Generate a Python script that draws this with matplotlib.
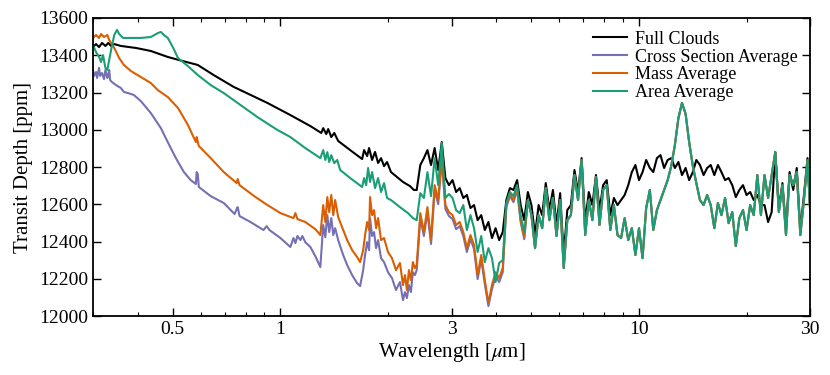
import matplotlib
matplotlib.use('Agg')
import matplotlib.pyplot as plt
from matplotlib.ticker import FixedLocator, FixedFormatter, NullFormatter

plt.rcParams['font.family'] = ['Liberation Serif', 'DejaVu Serif']
plt.rcParams['mathtext.fontset'] = 'stix'

# colours (Dark2)
BLACK = '#000000'
PURPLE = '#7570b3'
ORANGE = '#d95f02'
GREEN = '#1b9e77'

# shared infrared grid (um), 0.01 dex steps
ir_wl = [2.399, 2.455, 2.512, 2.570, 2.630, 2.692, 2.754, 2.818, 2.884, 2.951,
         3.020, 3.090, 3.162, 3.236, 3.311, 3.388, 3.467, 3.548, 3.631, 3.715,
         3.802, 3.890, 3.981, 4.074, 4.169, 4.266, 4.365, 4.467, 4.571, 4.677,
         4.786, 4.898, 5.012, 5.129, 5.248, 5.370, 5.495, 5.623, 5.754, 5.888,
         6.026, 6.166, 6.310, 6.457, 6.607, 6.761, 6.918, 7.079, 7.244, 7.413,
         7.586, 7.762, 7.943, 8.128, 8.318, 8.511, 8.710, 8.913, 9.120, 9.333,
         9.550, 9.772, 10.00, 10.23, 10.47, 10.72, 10.96, 11.22, 11.48, 11.75,
         12.02, 12.30, 12.59, 12.88, 13.18, 13.49, 13.80, 14.13, 14.45, 14.79,
         15.14, 15.49, 15.85, 16.22, 16.60, 16.98, 17.38, 17.78, 18.20, 18.62,
         19.05, 19.50, 19.95, 20.42, 20.89, 21.38, 21.88, 22.39, 22.91, 23.44,
         23.99, 24.55, 25.12, 25.70, 26.30, 26.92, 27.54, 28.18, 28.84, 29.51,
         30.20]

# Full Clouds
full_wl_vis = [0.300, 0.306, 0.312, 0.318, 0.325, 0.331, 0.337, 0.344, 0.359, 0.396,
               0.435, 0.485, 0.534, 0.588, 0.651, 0.741, 0.825, 0.920, 1.066, 1.212,
               1.300, 1.316, 1.342, 1.359, 1.386, 1.413, 1.449, 1.565, 1.690, 1.711,
               1.745, 1.767, 1.801, 1.836, 1.872, 1.908, 1.945, 1.983, 2.034, 2.197,
               2.297, 2.356]
full_vis = [13444, 13460, 13444, 13466, 13450, 13466, 13450, 13460, 13450, 13439,
            13423, 13391, 13369, 13348, 13294, 13230, 13187, 13144, 13079, 13020,
            12983, 13009, 12977, 13004, 12961, 12983, 12940, 12891, 12843, 12891,
            12859, 12902, 12838, 12881, 12822, 12848, 12805, 12827, 12773, 12720,
            12698, 12677]
full_ir = [12677, 12811, 12848, 12891, 12811, 12902, 12784, 12934, 12741, 12703,
           12730, 12666, 12687, 12634, 12650, 12580, 12596, 12515, 12542, 12462,
           12505, 12419, 12472, 12408, 12451, 12623, 12687, 12677, 12730, 12596,
           12515, 12666, 12596, 12435, 12596, 12542, 12714, 12569, 12677, 12489,
           12660, 12328, 12569, 12596, 12784, 12666, 12848, 12505, 12666, 12596,
           12757, 12569, 12703, 12730, 12542, 12634, 12596, 12623, 12650, 12703,
           12773, 12811, 12730, 12773, 12838, 12795, 12773, 12848, 12864, 12795,
           12838, 12848, 12795, 12827, 12757, 12795, 12730, 12773, 12838, 12811,
           12757, 12795, 12811, 12757, 12811, 12773, 12730, 12741, 12703, 12639,
           12677, 12703, 12650, 12666, 12623, 12650, 12596, 12596, 12505, 12558,
           12880, 12580, 12714, 12472, 12773, 12677, 12795, 12462, 12650, 12848,
           12489]

# Cross Section Average
cross_wl_vis = [0.300, 0.302, 0.306, 0.308, 0.312, 0.314, 0.318, 0.322, 0.325, 0.329,
                0.331, 0.333, 0.335, 0.339, 0.348, 0.359, 0.366, 0.376, 0.390, 0.408,
                0.435, 0.464, 0.485, 0.511, 0.538, 0.562, 0.581, 0.584, 0.588, 0.592,
                0.639, 0.695, 0.745, 0.755, 0.760, 0.769, 0.825, 0.897, 0.915, 0.932,
                1.000, 1.066, 1.087, 1.101, 1.115, 1.137, 1.151, 1.173, 1.212, 1.251,
                1.292, 1.316, 1.334, 1.351, 1.368, 1.386, 1.404, 1.421, 1.449, 1.496,
                1.535, 1.585, 1.636, 1.668, 1.701, 1.722, 1.745, 1.767, 1.778, 1.801,
                1.824, 1.848, 1.872, 1.908, 1.945, 1.995, 2.047, 2.100, 2.154, 2.197,
                2.225, 2.253, 2.282, 2.311, 2.341, 2.371]
cross_vis = [13321, 13289, 13310, 13278, 13332, 13289, 13305, 13272, 13321, 13278,
             13294, 13321, 13267, 13256, 13240, 13224, 13203, 13197, 13187, 13154,
             13090, 13009, 12934, 12848, 12773, 12730, 12709, 12773, 12762, 12693,
             12644, 12607, 12548, 12575, 12585, 12537, 12505, 12462, 12483, 12462,
             12419, 12371, 12419, 12392, 12430, 12408, 12430, 12397, 12371, 12322,
             12263, 12489, 12424, 12542, 12451, 12526, 12435, 12472, 12408, 12328,
             12274, 12220, 12177, 12161, 12247, 12328, 12397, 12354, 12526, 12430,
             12451, 12365, 12408, 12311, 12290, 12236, 12204, 12140, 12183, 12086,
             12129, 12097, 12167, 12129, 12236, 12220]
cross_ir_head = [12247, 12526, 12430, 12558, 12387, 12677, 12601, 12838, 12575, 12537,
                 12521, 12467, 12483, 12430, 12344, 12413, 12360, 12199, 12306, 12172,
                 12054, 12145, 12215, 12183, 12236, 12585, 12644, 12612, 12677, 12505,
                 12413]

# Mass Average
mass_wl_vis = [0.300, 0.306, 0.312, 0.316, 0.322, 0.329, 0.333, 0.337, 0.344, 0.355,
               0.366, 0.383, 0.408, 0.435, 0.455, 0.485, 0.518, 0.552, 0.581, 0.584,
               0.592, 0.639, 0.695, 0.755, 0.760, 0.769, 0.852, 0.920, 1.000, 1.087,
               1.101, 1.115, 1.173, 1.251, 1.292, 1.316, 1.334, 1.351, 1.368, 1.386,
               1.404, 1.421, 1.449, 1.496, 1.535, 1.585, 1.636, 1.668, 1.701, 1.722,
               1.745, 1.767, 1.778, 1.801, 1.824, 1.848, 1.872, 1.908, 1.945, 1.995,
               2.047, 2.100, 2.154, 2.197, 2.225, 2.253, 2.282, 2.311, 2.341, 2.371]
mass_vis = [13493, 13509, 13493, 13514, 13498, 13509, 13482, 13466, 13439, 13385,
            13348, 13315, 13283, 13251, 13213, 13176, 13117, 13026, 12934, 12961,
            12913, 12848, 12773, 12714, 12736, 12703, 12639, 12596, 12553, 12526,
            12553, 12521, 12505, 12467, 12435, 12596, 12505, 12639, 12558, 12650,
            12542, 12623, 12531, 12462, 12408, 12354, 12317, 12290, 12354, 12435,
            12505, 12462, 12639, 12542, 12569, 12472, 12526, 12408, 12419, 12344,
            12311, 12247, 12285, 12167, 12220, 12140, 12247, 12193, 12290, 12258]
mass_ir_head = [12274, 12553, 12451, 12585, 12408, 12703, 12623, 12864, 12596, 12558,
                12542, 12489, 12505, 12451, 12365, 12435, 12381, 12220, 12328, 12193,
                12070, 12167, 12236, 12204, 12258, 12596, 12655, 12623, 12687, 12515,
                12424]

# Area Average
area_wl_vis = [0.300, 0.306, 0.312, 0.316, 0.320, 0.325, 0.329, 0.333, 0.337, 0.344,
               0.350, 0.355, 0.364, 0.383, 0.408, 0.435, 0.455, 0.464, 0.473, 0.485,
               0.501, 0.518, 0.552, 0.588, 0.639, 0.695, 0.774, 0.863, 0.981, 1.066,
               1.173, 1.292, 1.316, 1.334, 1.351, 1.368, 1.386, 1.413, 1.440, 1.468,
               1.565, 1.690, 1.711, 1.734, 1.756, 1.778, 1.801, 1.836, 1.872, 1.908,
               1.945, 1.983, 2.034, 2.154, 2.268, 2.341]
area_vis = [13455, 13417, 13391, 13364, 13401, 13332, 13321, 13374, 13428, 13509,
            13536, 13514, 13493, 13493, 13493, 13498, 13519, 13525, 13509, 13493,
            13444, 13385, 13342, 13294, 13240, 13197, 13133, 13068, 12999, 12961,
            12902, 12848, 12891, 12838, 12880, 12827, 12864, 12821, 12838, 12784,
            12741, 12693, 12741, 12703, 12795, 12720, 12773, 12687, 12741, 12666,
            12714, 12634, 12623, 12585, 12553, 12526]
area_ir = [12515, 12660, 12634, 12773, 12644, 12848, 12703, 12929, 12634, 12655,
           12634, 12569, 12553, 12596, 12462, 12542, 12472, 12344, 12430, 12290,
           12365, 12311, 12183, 12285, 12301, 12607, 12666, 12644, 12703, 12542,
           12451, 12623, 12542, 12365, 12542, 12472, 12687, 12515, 12634, 12430,
           12623, 12258, 12515, 12542, 12757, 12623, 12838, 12435, 12623, 12515,
           12746, 12489, 12677, 12703, 12462, 12596, 12435, 12419, 12526, 12408,
           12472, 12328, 12472, 12311, 12580, 12677, 12462, 12569, 12623, 12677,
           12730, 12805, 12918, 13063, 13144, 13085, 12934, 12805, 12714, 12623,
           12596, 12650, 12596, 12472, 12607, 12542, 12634, 12499, 12558, 12376,
           12526, 12569, 12462, 12596, 12542, 12757, 12542, 12757, 12634, 12757,
           12880, 12558, 12703, 12435, 12757, 12703, 12773, 12435, 12623, 12838,
           12462]

# beyond ~5 um the averaged models coincide
n_head = len(mass_ir_head)
series = [
    ('Full Clouds', BLACK, full_wl_vis + ir_wl, full_vis + full_ir),
    ('Cross Section Average', PURPLE, cross_wl_vis + ir_wl,
     cross_vis + cross_ir_head + area_ir[n_head:]),
    ('Mass Average', ORANGE, mass_wl_vis + ir_wl,
     mass_vis + mass_ir_head + area_ir[n_head:]),
    ('Area Average', GREEN, area_wl_vis + ir_wl, area_vis + area_ir),
]

fig = plt.figure(figsize=(8.3, 3.75), dpi=100)
ax = fig.add_axes([0.112, 0.157, 0.864, 0.795])

for label, color, wl, depth in series:
    ax.plot(wl, depth, color=color, lw=1.5, label=label)

ax.set_xscale('log')
ax.set_xlim(0.3, 30)
ax.set_ylim(12000, 13600)
ax.set_yticks(range(12000, 13601, 200))

major_x = [0.5, 1, 3, 10, 30]
minor_x = [0.3, 0.4, 0.6, 0.7, 0.8, 0.9, 2, 4, 5, 6, 7, 8, 9, 20]
ax.xaxis.set_major_locator(FixedLocator(major_x))
ax.xaxis.set_major_formatter(FixedFormatter(['0.5', '1', '3', '10', '30']))
ax.xaxis.set_minor_locator(FixedLocator(minor_x))
ax.xaxis.set_minor_formatter(NullFormatter())

ax.tick_params(which='both', direction='in', top=True, right=True, labelsize=14)
ax.tick_params(which='major', length=6, width=1)
ax.tick_params(which='minor', length=3, width=0.8)
for s in ax.spines.values():
    s.set_linewidth(1.3)

ax.set_xlabel(r'Wavelength [$\mu$m]', fontsize=15, labelpad=2)
ax.set_ylabel('Transit Depth [ppm]', fontsize=15, labelpad=4)

ax.legend(loc='upper right', frameon=False, fontsize=13, handlelength=1.9,
          handletextpad=0.4, labelspacing=0.05, borderaxespad=0.3)

fig.savefig('out.png', dpi=100)
